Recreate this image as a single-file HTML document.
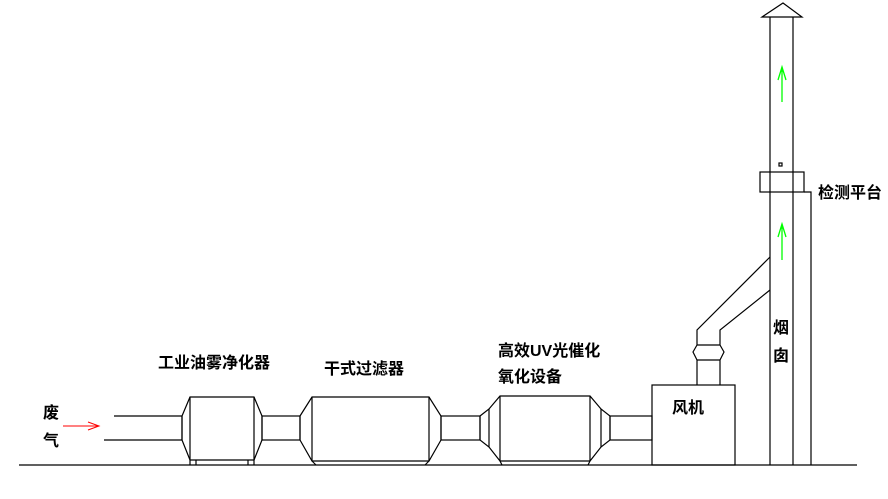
<!DOCTYPE html>
<html><head><meta charset="utf-8"><style>
body{margin:0;background:#fff;width:888px;height:494px;overflow:hidden}
text{font-family:"Liberation Sans","Noto Sans CJK SC",sans-serif;font-size:16px;font-weight:bold;fill:#000}
</style></head><body>
<svg width="888" height="494" viewBox="0 0 888 494" xmlns="http://www.w3.org/2000/svg">
<g fill="none" stroke="#000" stroke-width="1.2">
<line x1="19" y1="465" x2="857" y2="465"/>
<line x1="114" y1="416" x2="182" y2="416"/>
<line x1="104" y1="440" x2="182" y2="440"/>
<!-- unit1 -->
<polygon points="182,416 190,397 254,397 262,416 262,440 254,460 190,460 182,440"/>
<line x1="190" y1="397" x2="190" y2="460"/><line x1="254" y1="397" x2="254" y2="460"/>
<line x1="182" y1="416" x2="182" y2="440"/>
<path d="M190 460V465M196 460V465M248 460V465M254 460V465"/>
<rect x="262" y="416" width="38" height="24"/>
<!-- unit2 -->
<polygon points="300,416 312,397 429,397 441,416 441,440 429,461 312,461 300,440"/>
<line x1="312" y1="397" x2="312" y2="461"/><line x1="429" y1="397" x2="429" y2="461"/>
<path d="M312 461L316 465M429 461L425 465"/>
<rect x="441" y="416" width="39" height="24"/>
<!-- unit3 -->
<polygon points="480,416 489,409 500,396 590,396 601,409 610,416 610,440 601,447 590,461 500,461 489,447 480,440"/>
<path d="M489 409V447M500 396V461M590 396V461M601 409V447"/>
<path d="M500 461L502 465M590 461L588 465"/>
<rect x="610" y="416" width="42" height="24"/>
<!-- fan -->
<rect x="652" y="385" width="83" height="80"/>
<path d="M697 385V360L693 352L697 345V330L770 257M720 385V360L724 352L720 345V330L770 290M697 360H720M697 345H720"/>
<!-- chimney -->
<path d="M770 17V465M793 17V465"/>
<polygon points="762,17 783,3 802,17"/>
<rect x="760" y="172" width="44" height="20"/>
<path d="M804 192H811V465"/>
<rect x="779" y="163" width="3" height="3"/>
</g>
<g stroke="#f00" fill="none" stroke-width="1"><path d="M63 426H99M88 422L99 426L88 430"/></g>
<g stroke="#0f0" fill="none" stroke-width="1.3"><path d="M782 102V67M778 80L782 67L786 80M782 260V224M778 237L782 224L786 237"/></g>
<text x="158" y="368">工业油雾净化器</text>
<text x="324" y="374">干式过滤器</text>
<text x="498" y="356">高效UV光催化</text>
<text x="498" y="382">氧化设备</text>
<text x="672" y="413">风机</text>
<text x="818" y="198">检测平台</text>
<text x="773" y="333">烟</text>
<text x="773" y="361">囱</text>
<text x="43" y="418">废</text>
<text x="43" y="446">气</text>
</svg>
</body></html>
